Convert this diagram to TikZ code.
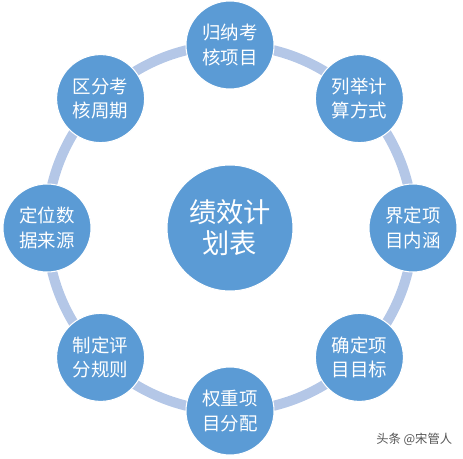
\documentclass[tikz,border=0pt]{standalone}
\usepackage{fontspec}
\setmainfont{Noto Sans CJK SC}
\usepackage{tikz}
\usetikzlibrary{positioning, calc}
\definecolor{nodeblue}{RGB}{91, 155, 213}
\definecolor{ringblue}{RGB}{180, 199, 231}
\definecolor{markgray}{RGB}{85, 85, 85}

\tikzset{
    item/.style={circle, draw=white, line width=0.6pt, fill=nodeblue, text=white,
        minimum size=1.76cm, inner sep=0pt, align=center, font=\fontsize{10.5}{14}\selectfont},
    hub/.style={circle, draw=white, line width=0.6pt, fill=nodeblue, text=white,
        minimum size=2.52cm, inner sep=0pt, align=center, font=\fontsize{15.5}{17.5}\selectfont},
    ring/.style={draw=ringblue, line width=0.2cm}
}

\begin{document}
\begin{tikzpicture}
    \useasboundingbox (-4.60,-4.62) rectangle (4.66,4.56);

    % --- Ring ---
    \coordinate (mid) at (0,0);
    \draw[ring] (mid) circle (3.66cm);

    % --- Center ---
    \node[hub] (plan) at (mid) {绩效计\\划表};

    % --- Steps round the ring ---
    \node[item] (collect) at (90:3.66) {归纳考\\核项目};
    \node[item] (method) at (45:3.66) {列举计\\算方式};
    \node[item] (scope) at (0:3.66) {界定项\\目内涵};
    \node[item] (target) at (-45:3.66) {确定项\\目目标};
    \node[item] (weight) at (-90:3.66) {权重项\\目分配};
    \node[item] (rules) at (-135:3.66) {制定评\\分规则};
    \node[item] (source) at (180:3.66) {定位数\\据来源};
    \node[item] (period) at (135:3.66) {区分考\\核周期};

    % --- Watermark ---
    \node[anchor=east, text=markgray, font=\fontsize{7}{8}\selectfont, inner sep=0pt] (mark) at (4.45,-4.22) {头条 @宋管人};
\end{tikzpicture}
\end{document}
